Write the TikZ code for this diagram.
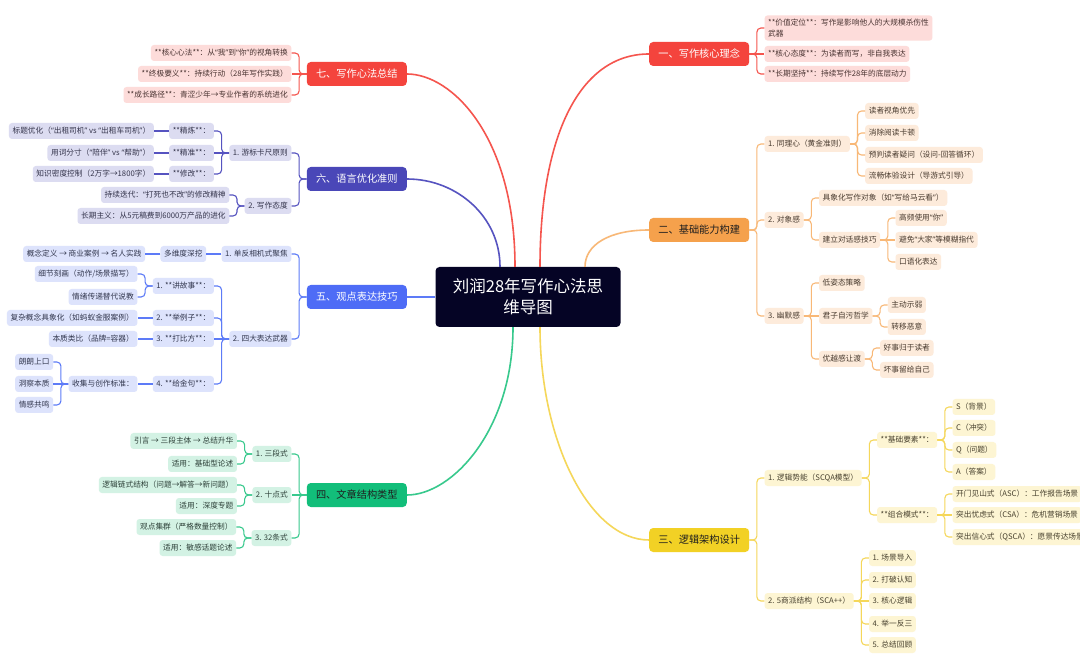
\documentclass[tikz,border=0pt]{standalone}
\usepackage{fontspec}
\setmainfont{Noto Sans CJK SC}
\newfontfamily\qfont{Noto Sans}
\usetikzlibrary{calc}
\definecolor{redc}{HTML}{F4443D}
\definecolor{redf}{HTML}{FDDCDA}
\definecolor{redl}{HTML}{F5554E}
\definecolor{redt}{HTML}{4A3432}
\definecolor{orgc}{HTML}{F5A14C}
\definecolor{orgf}{HTML}{FDEBDB}
\definecolor{orgl}{HTML}{F8B877}
\definecolor{orgt}{HTML}{4A3C30}
\definecolor{yelc}{HTML}{F2D125}
\definecolor{yelf}{HTML}{FDF5D3}
\definecolor{yell}{HTML}{F5D75A}
\definecolor{yelt}{HTML}{48412E}
\definecolor{grnc}{HTML}{12BE7A}
\definecolor{grnf}{HTML}{D3F2E4}
\definecolor{grnl}{HTML}{38C98D}
\definecolor{grnt}{HTML}{2F423A}
\definecolor{bluc}{HTML}{4E6CF6}
\definecolor{bluf}{HTML}{DDE3FC}
\definecolor{blul}{HTML}{5D7BF7}
\definecolor{blut}{HTML}{33384F}
\definecolor{purc}{HTML}{4A47B8}
\definecolor{purf}{HTML}{DCDCF1}
\definecolor{purl}{HTML}{5653C0}
\definecolor{purt}{HTML}{35354C}
\definecolor{ctrc}{HTML}{050425}
\definecolor{maintxt}{HTML}{1F1F1F}
\newcommand\lqt{{\qfont “}}
\newcommand\rqt{{\qfont ”}}
\newcommand\leaffont{\fontsize{7.7}{9.5}\selectfont}
\newcommand\mainfnt{\fontsize{10.2}{12}\selectfont}
\newcommand\ctrfnt{\fontsize{16.5}{21}\selectfont}
\newcommand\kR[5]{\node[#1,anchor=west] (#2) at ($(#3.east |- 0,#4)+(15,0)$) {#5};}
\newcommand\kL[5]{\node[#1,anchor=east] (#2) at ($(#3.west |- 0,#4)+(-15,0)$) {#5};}
\newcommand\cR[3]{\draw[#1] (#2.east) -- ++(7.5,0) |- (#3.west);}
\newcommand\cL[3]{\draw[#1] (#2.west) -- ++(-7.5,0) |- (#3.east);}
\newcommand\sR[3]{\draw[#1] (#2.east) -- (#3.west);}
\newcommand\sL[3]{\draw[#1] (#2.west) -- (#3.east);}
\begin{document}
\begin{tikzpicture}[x=1pt,y=-1pt,
  leaf/.style={rounded corners=3pt, inner xsep=3.6pt, inner ysep=0pt, text height=6.6pt, text depth=1.8pt, minimum height=16pt, font=\leaffont},
  leaftwo/.style={rounded corners=3pt, inner xsep=3.6pt, inner ysep=3.5pt, font={\fontsize{7.7}{11}\selectfont}, align=left},
  mainbox/.style={rounded corners=4pt, minimum width=100pt, minimum height=24pt, inner sep=0pt, font=\mainfnt},
  lnk/.style={line width=1.1pt, rounded corners=4pt},
  mcurve/.style={line width=1.6pt},
  lfR/.style={leaf, fill=redf, text=redt}, lfO/.style={leaf, fill=orgf, text=orgt}, lfY/.style={leaf, fill=yelf, text=yelt},
  lfG/.style={leaf, fill=grnf, text=grnt}, lfB/.style={leaf, fill=bluf, text=blut}, lfP/.style={leaf, fill=purf, text=purt},
  lnR/.style={lnk, draw=redl}, lnO/.style={lnk, draw=orgl}, lnY/.style={lnk, draw=yell},
  lnG/.style={lnk, draw=grnl}, lnB/.style={lnk, draw=blul}, lnP/.style={lnk, draw=purl}]
\useasboundingbox[fill=white] (0,0) rectangle (1080,660);

% center
\node[fill=ctrc, rounded corners=4pt, minimum width=185pt, minimum height=60pt, align=center, font=\ctrfnt, text=white] (ctr) at (528,297) {刘润28年写作心法思\\维导图};

% main branches
\node[mainbox, fill=redc, text=white, anchor=west] (b1) at (649,54) {一、写作核心理念};
\node[mainbox, fill=orgc, text=maintxt, anchor=west] (b2) at (649,230) {二、基础能力构建};
\node[mainbox, fill=yelc, text=maintxt, anchor=west] (b3) at (649,540) {三、逻辑架构设计};
\node[mainbox, fill=grnc, text=maintxt, anchor=east] (b4) at (407,495) {四、文章结构类型};
\node[mainbox, fill=bluc, text=white, anchor=east] (b5) at (407,297) {五、观点表达技巧};
\node[mainbox, fill=purc, text=white, anchor=east] (b6) at (407,179) {六、语言优化准则};
\node[mainbox, fill=redc, text=white, anchor=east] (b7) at (407,74) {七、写作心法总结};

\draw[mcurve, draw=redl] ([xshift=12pt]ctr.north) .. controls +(0,-130) and +(-70,0) .. (b1.west);
\draw[mcurve, draw=orgl] ([xshift=57pt]ctr.north) .. controls +(0,-22) and +(-40,0) .. (b2.west);
\draw[mcurve, draw=yell] ([xshift=12pt]ctr.south) .. controls +(0,113) and +(-60,0) .. (b3.west);
\draw[mcurve, draw=grnl] ([xshift=-15pt]ctr.south) .. controls +(0,103) and +(45,0) .. (b4.east);
\draw[mcurve, draw=blul] (ctr.west) -- (b5.east);
\draw[mcurve, draw=purl] ([xshift=-28pt]ctr.north) .. controls +(0,-50) and +(50,0) .. (b6.east);
\draw[mcurve, draw=redl] ([xshift=-13pt]ctr.north) .. controls +(0,-130) and +(45,0) .. (b7.east);

% 一
\node[leaftwo, fill=redf, text=redt, anchor=west] (b1a) at ($(b1.east |- 0,28)+(15,0)$) {**价值定位**：写作是影响他人的大规模杀伤性\\武器};
\kR{lfR}{b1b}{b1}{54}{**核心态度**：为读者而写，非自我表达}
\kR{lfR}{b1c}{b1}{74}{**长期坚持**：持续写作28年的底层动力}
\cR{lnR}{b1}{b1a} \sR{lnR}{b1}{b1b} \cR{lnR}{b1}{b1c}

% 二
\kR{lfO}{b2a}{b2}{144}{1. 同理心（黄金准则）}
\kR{lfO}{b2b}{b2}{220}{2. 对象感}
\kR{lfO}{b2c}{b2}{316}{3. 幽默感}
\kR{lfO}{b2a1}{b2a}{111}{读者视角优先}
\kR{lfO}{b2a2}{b2a}{133}{消除阅读卡顿}
\kR{lfO}{b2a3}{b2a}{155}{预判读者疑问（设问-回答循环）}
\kR{lfO}{b2a4}{b2a}{176}{流畅体验设计（导游式引导）}
\kR{lfO}{b2b1}{b2b}{198}{具象化写作对象（如\lqt 写给马云看\rqt）}
\kR{lfO}{b2b2}{b2b}{240}{建立对话感技巧}
\kR{lfO}{b2b2a}{b2b2}{218}{高频使用\lqt 你\rqt}
\kR{lfO}{b2b2b}{b2b2}{240}{避免\lqt 大家\rqt 等模糊指代}
\kR{lfO}{b2b2c}{b2b2}{262}{口语化表达}
\kR{lfO}{b2c1}{b2c}{283}{低姿态策略}
\kR{lfO}{b2c2}{b2c}{316}{君子自污哲学}
\kR{lfO}{b2c3}{b2c}{359}{优越感让渡}
\kR{lfO}{b2c2a}{b2c2}{305}{主动示弱}
\kR{lfO}{b2c2b}{b2c2}{327}{转移恶意}
\kR{lfO}{b2c3a}{b2c3}{348}{好事归于读者}
\kR{lfO}{b2c3b}{b2c3}{370}{坏事留给自己}
\cR{lnO}{b2}{b2a} \cR{lnO}{b2}{b2b} \cR{lnO}{b2}{b2c}
\cR{lnO}{b2a}{b2a1} \cR{lnO}{b2a}{b2a2} \cR{lnO}{b2a}{b2a3} \cR{lnO}{b2a}{b2a4}
\cR{lnO}{b2b}{b2b1} \cR{lnO}{b2b}{b2b2}
\cR{lnO}{b2b2}{b2b2a} \sR{lnO}{b2b2}{b2b2b} \cR{lnO}{b2b2}{b2b2c}
\cR{lnO}{b2c}{b2c1} \sR{lnO}{b2c}{b2c2} \cR{lnO}{b2c}{b2c3}
\cR{lnO}{b2c2}{b2c2a} \cR{lnO}{b2c2}{b2c2b}
\cR{lnO}{b2c3}{b2c3a} \cR{lnO}{b2c3}{b2c3b}

% 三
\kR{lfY}{b3a}{b3}{478}{1. 逻辑势能（SCQA模型）}
\kR{lfY}{b3b}{b3}{601}{2. 5商派结构（SCA++）}
\kR{lfY}{b3a1}{b3a}{440}{**基础要素**：}
\kR{lfY}{b3a2}{b3a}{515}{**组合模式**：}
\kR{lfY}{s1}{b3a1}{407}{S（背景）}
\kR{lfY}{s2}{b3a1}{428}{C（冲突）}
\kR{lfY}{s3}{b3a1}{450}{Q（问题）}
\kR{lfY}{s4}{b3a1}{472}{A（答案）}
\kR{lfY}{m1}{b3a2}{494}{开门见山式（ASC）：工作报告场景}
\kR{lfY}{m2}{b3a2}{515}{突出忧虑式（CSA）：危机营销场景}
\kR{lfY}{m3}{b3a2}{537}{突出信心式（QSCA）：愿景传达场景}
\kR{lfY}{f1}{b3b}{558}{1. 场景导入}
\kR{lfY}{f2}{b3b}{580}{2. 打破认知}
\kR{lfY}{f3}{b3b}{601}{3. 核心逻辑}
\kR{lfY}{f4}{b3b}{624}{4. 举一反三}
\kR{lfY}{f5}{b3b}{645}{5. 总结回顾}
\cR{lnY}{b3}{b3a} \cR{lnY}{b3}{b3b}
\cR{lnY}{b3a}{b3a1} \cR{lnY}{b3a}{b3a2}
\cR{lnY}{b3a1}{s1} \cR{lnY}{b3a1}{s2} \cR{lnY}{b3a1}{s3} \cR{lnY}{b3a1}{s4}
\cR{lnY}{b3a2}{m1} \sR{lnY}{b3a2}{m2} \cR{lnY}{b3a2}{m3}
\cR{lnY}{b3b}{f1} \cR{lnY}{b3b}{f2} \sR{lnY}{b3b}{f3} \cR{lnY}{b3b}{f4} \cR{lnY}{b3b}{f5}

% 七
\kL{lfR}{b7a}{b7}{53}{**核心心法**：从\lqt 我\rqt 到\lqt 你\rqt 的视角转换}
\kL{lfR}{b7b}{b7}{74}{**终极要义**：持续行动（28年写作实践）}
\kL{lfR}{b7c}{b7}{95}{**成长路径**：青涩少年→专业作者的系统进化}
\cL{lnR}{b7}{b7a} \sL{lnR}{b7}{b7b} \cL{lnR}{b7}{b7c}

% 六
\kL{lfP}{b6a}{b6}{153}{1. 游标卡尺原则}
\kL{lfP}{b6b}{b6}{206}{2. 写作态度}
\kL{lfP}{b6a1}{b6a}{131}{**精炼**：}
\kL{lfP}{b6a2}{b6a}{153}{**精准**：}
\kL{lfP}{b6a3}{b6a}{174}{**修改**：}
\kL{lfP}{b6a1x}{b6a1}{131}{标题优化（\lqt 出租司机\rqt{} vs \lqt 出租车司机\rqt）}
\kL{lfP}{b6a2x}{b6a2}{153}{用词分寸（\lqt 陪伴\rqt{} vs \lqt 帮助\rqt）}
\kL{lfP}{b6a3x}{b6a3}{174}{知识密度控制（2万字→1800字）}
\kL{lfP}{b6b1}{b6b}{195}{持续迭代：\lqt 打死也不改\rqt 的修改精神}
\kL{lfP}{b6b2}{b6b}{216}{长期主义：从5元稿费到6000万产品的进化}
\cL{lnP}{b6}{b6a} \cL{lnP}{b6}{b6b}
\cL{lnP}{b6a}{b6a1} \sL{lnP}{b6a}{b6a2} \cL{lnP}{b6a}{b6a3}
\sL{lnP}{b6a1}{b6a1x} \sL{lnP}{b6a2}{b6a2x} \sL{lnP}{b6a3}{b6a3x}
\cL{lnP}{b6b}{b6b1} \cL{lnP}{b6b}{b6b2}

% 五
\kL{lfB}{b5a}{b5}{254}{1. 单反相机式聚焦}
\kL{lfB}{b5b}{b5}{339}{2. 四大表达武器}
\kL{lfB}{b5a1}{b5a}{254}{多维度深挖}
\kL{lfB}{b5a1x}{b5a1}{254}{概念定义 → 商业案例 → 名人实践}
\kL{lfB}{b5b1}{b5b}{286}{1. **讲故事**：}
\kL{lfB}{b5b2}{b5b}{318}{2. **举例子**：}
\kL{lfB}{b5b3}{b5b}{339}{3. **打比方**：}
\kL{lfB}{b5b4}{b5b}{384}{4. **给金句**：}
\kL{lfB}{b5b1a}{b5b1}{274}{细节刻画（动作/场景描写）}
\kL{lfB}{b5b1b}{b5b1}{297}{情绪传递替代说教}
\kL{lfB}{b5b2a}{b5b2}{318}{复杂概念具象化（如蚂蚁金服案例）}
\kL{lfB}{b5b3a}{b5b3}{339}{本质类比（品牌=容器）}
\kL{lfB}{b5b4a}{b5b4}{384}{收集与创作标准：}
\kL{lfB}{g1}{b5b4a}{362}{朗朗上口}
\kL{lfB}{g2}{b5b4a}{384}{洞察本质}
\kL{lfB}{g3}{b5b4a}{405}{情感共鸣}
\cL{lnB}{b5}{b5a} \cL{lnB}{b5}{b5b}
\sL{lnB}{b5a}{b5a1} \sL{lnB}{b5a1}{b5a1x}
\cL{lnB}{b5b}{b5b1} \cL{lnB}{b5b}{b5b2} \sL{lnB}{b5b}{b5b3} \cL{lnB}{b5b}{b5b4}
\cL{lnB}{b5b1}{b5b1a} \cL{lnB}{b5b1}{b5b1b}
\sL{lnB}{b5b2}{b5b2a} \sL{lnB}{b5b3}{b5b3a} \sL{lnB}{b5b4}{b5b4a}
\cL{lnB}{b5b4a}{g1} \sL{lnB}{b5b4a}{g2} \cL{lnB}{b5b4a}{g3}

% 四
\kL{lfG}{b4a}{b4}{454}{1. 三段式}
\kL{lfG}{b4b}{b4}{495}{2. 十点式}
\kL{lfG}{b4c}{b4}{538}{3. 32条式}
\kL{lfG}{b4a1}{b4a}{441}{引言 → 三段主体 → 总结升华}
\kL{lfG}{b4a2}{b4a}{464}{适用：基础型论述}
\kL{lfG}{b4b1}{b4b}{485}{逻辑链式结构（问题→解答→新问题）}
\kL{lfG}{b4b2}{b4b}{506}{适用：深度专题}
\kL{lfG}{b4c1}{b4c}{527}{观点集群（严格数量控制）}
\kL{lfG}{b4c2}{b4c}{548}{适用：敏感话题论述}
\cL{lnG}{b4}{b4a} \sL{lnG}{b4}{b4b} \cL{lnG}{b4}{b4c}
\cL{lnG}{b4a}{b4a1} \cL{lnG}{b4a}{b4a2}
\cL{lnG}{b4b}{b4b1} \cL{lnG}{b4b}{b4b2}
\cL{lnG}{b4c}{b4c1} \cL{lnG}{b4c}{b4c2}
\end{tikzpicture}
\end{document}
